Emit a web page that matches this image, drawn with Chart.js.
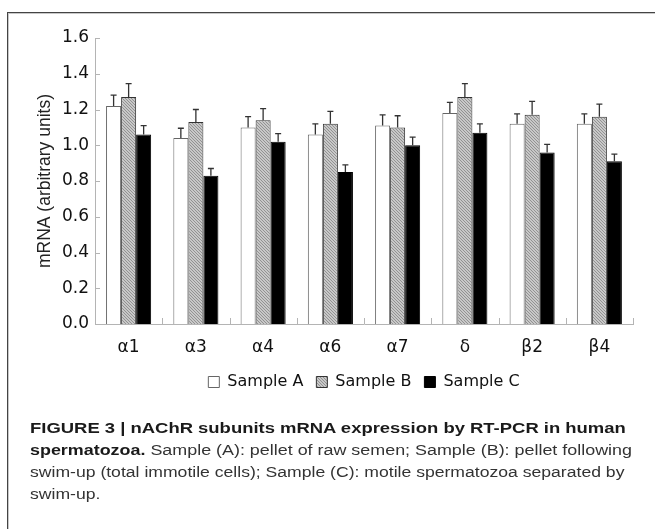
<!DOCTYPE html>
<html>
<head>
<meta charset="utf-8">
<script src="https://cdn.jsdelivr.net/npm/chart.js@4.4.0/dist/chart.umd.min.js"></script>
<style>
  html, body { margin: 0; padding: 0; background: #fff; }
  body { width: 655px; height: 529px; position: relative; overflow: hidden; }
  .frame {
    position: absolute; left: 7px; top: 12px; width: 700px; height: 600px;
    border-top: 1px solid #444; border-left: 1px solid #444;
    box-shadow: inset 1px 1px 0 #c8c8c8;
  }
  #wrap { position: absolute; left: 0; top: 0; width: 655px; height: 420px; }
  .caption {
    position: absolute; left: 30px; top: 417px;
    font-family: 'Liberation Sans', Arial, sans-serif; font-size: 15.5px; line-height: 22px;
    color: #333; white-space: nowrap;
  }
  .caption div { transform-origin: 0 0; }
  .caption b { color: #1a1a1a; }
</style>
</head>
<body>
<div class="frame"></div>
<div id="wrap"><canvas id="chart" width="655" height="420"></canvas></div>
<div class="caption">
  <div style="transform: scaleX(1.19)"><b>FIGURE 3 | nAChR subunits mRNA expression by RT-PCR in human</b></div>
  <div style="transform: scaleX(1.155)"><b>spermatozoa.</b> Sample (A): pellet of raw semen; Sample (B): pellet following</div>
  <div style="transform: scaleX(1.135)">swim-up (total immotile cells); Sample (C): motile spermatozoa separated by</div>
  <div style="transform: scaleX(1.135)">swim-up.</div>
</div>
<script>
// ── Data ──
const categories = ['α1', 'α3', 'α4', 'α6', 'α7', 'δ', 'β2', 'β4'];
const seriesNames = ['Sample A', 'Sample B', 'Sample C'];
const sampleA = [1.22, 1.04, 1.10, 1.06, 1.11, 1.18, 1.12, 1.12];
const sampleB = [1.27, 1.13, 1.14, 1.12, 1.10, 1.27, 1.17, 1.16];
const sampleC = [1.06, 0.83, 1.02, 0.85, 1.00, 1.07, 0.96, 0.91];
const errA = [0.06, 0.055, 0.06, 0.06, 0.06, 0.06, 0.055, 0.055];
const errB = [0.075, 0.07, 0.065, 0.07, 0.065, 0.075, 0.075, 0.07];
const errC = [0.05, 0.04, 0.045, 0.04, 0.045, 0.05, 0.045, 0.04];
const yMin = 0, yMax = 1.6, yStep = 0.2;
const yTitle = 'mRNA (arbitrary units)';

// ── Fine hatched grey fill ──
function hatch() {
    const c = document.createElement('canvas');
    c.width = 3; c.height = 3;
    const g = c.getContext('2d');
    g.fillStyle = '#c8c8c8';
    g.fillRect(0, 0, 3, 3);
    g.fillStyle = '#929292';
    for (let i = 0; i < 3; i++) g.fillRect(i, i, 1, 1);
    return g.createPattern(c, 'repeat');
}

// ── Error bars (upper only, with cap) ──
const errors = [errA, errB, errC];
const errorBars = {
    id: 'errorBars',
    afterDatasetsDraw(chart) {
        const { ctx, scales: { y } } = chart;
        ctx.save();
        ctx.strokeStyle = '#333';
        ctx.lineWidth = 1.3;
        chart.data.datasets.forEach((ds, i) => {
            chart.getDatasetMeta(i).data.forEach((bar, j) => {
                const v = ds.data[j];
                const y0 = y.getPixelForValue(v);
                const y1 = y.getPixelForValue(v + errors[i][j]);
                ctx.beginPath();
                ctx.moveTo(bar.x, y0); ctx.lineTo(bar.x, y1);
                ctx.moveTo(bar.x - 3, y1); ctx.lineTo(bar.x + 3, y1);
                ctx.stroke();
            });
        });
        ctx.restore();
    }
};

// ── Inward tick marks ──
const innerTicks = {
    id: 'innerTicks',
    afterDraw(chart) {
        const { ctx, scales: { x, y } } = chart;
        ctx.save();
        ctx.strokeStyle = '#b4b4b4';
        ctx.lineWidth = 1;
        ctx.beginPath();
        y.ticks.forEach((t, i) => {
            const py = Math.round(y.getPixelForTick(i)) + 0.5;
            ctx.moveTo(x.left, py); ctx.lineTo(x.left + 5, py);
        });
        for (let i = 0; i <= categories.length; i++) {
            const px = Math.round(x.getPixelForValue(i - 0.5)) + 0.5;
            ctx.moveTo(px, y.bottom); ctx.lineTo(px, y.bottom - 6);
        }
        ctx.stroke();
        ctx.restore();
    }
};

const tickFont = { family: 'DejaVu Sans', size: 17 };

new Chart(document.getElementById('chart'), {
    type: 'bar',
    data: {
        labels: categories,
        datasets: [
            { label: seriesNames[0], data: sampleA, backgroundColor: '#ffffff', borderColor: '#666', borderWidth: 1 },
            { label: seriesNames[1], data: sampleB, backgroundColor: hatch(), borderColor: '#333', borderWidth: 1 },
            { label: seriesNames[2], data: sampleC, backgroundColor: '#000000', borderColor: '#000000', borderWidth: 1 },
        ]
    },
    options: {
        responsive: false,
        animation: false,
        devicePixelRatio: 1,
        layout: { padding: { top: 38, right: 22, left: 0, bottom: 20 } },
        datasets: { bar: { categoryPercentage: 0.67, barPercentage: 1.0 } },
        plugins: {
            legend: {
                position: 'bottom',
                fullSize: false,
                labels: {
                    boxWidth: 11, boxHeight: 11, padding: 13,
                    color: '#111',
                    font: { family: 'DejaVu Sans', size: 16 }
                }
            },
            tooltip: { enabled: false }
        },
        scales: {
            x: {
                grid: { display: false, drawTicks: false },
                border: { color: '#b4b4b4', width: 1 },
                ticks: { color: '#111', font: tickFont, padding: 13 },
                afterFit: s => { s.height = 37; }
            },
            y: {
                min: yMin, max: yMax,
                grid: { display: false, drawTicks: false },
                border: { color: '#b4b4b4', width: 1 },
                ticks: { stepSize: yStep, color: '#111', font: tickFont, padding: 6, callback: v => v.toFixed(1) },
                title: {
                    display: true, text: yTitle, color: '#222',
                    font: { family: 'Liberation Sans', size: 17.5 },
                    padding: { top: 35, bottom: 0 }
                },
                afterFit: s => { s.width = 95; }
            }
        }
    },
    plugins: [errorBars, innerTicks]
});
</script>
</body>
</html>
